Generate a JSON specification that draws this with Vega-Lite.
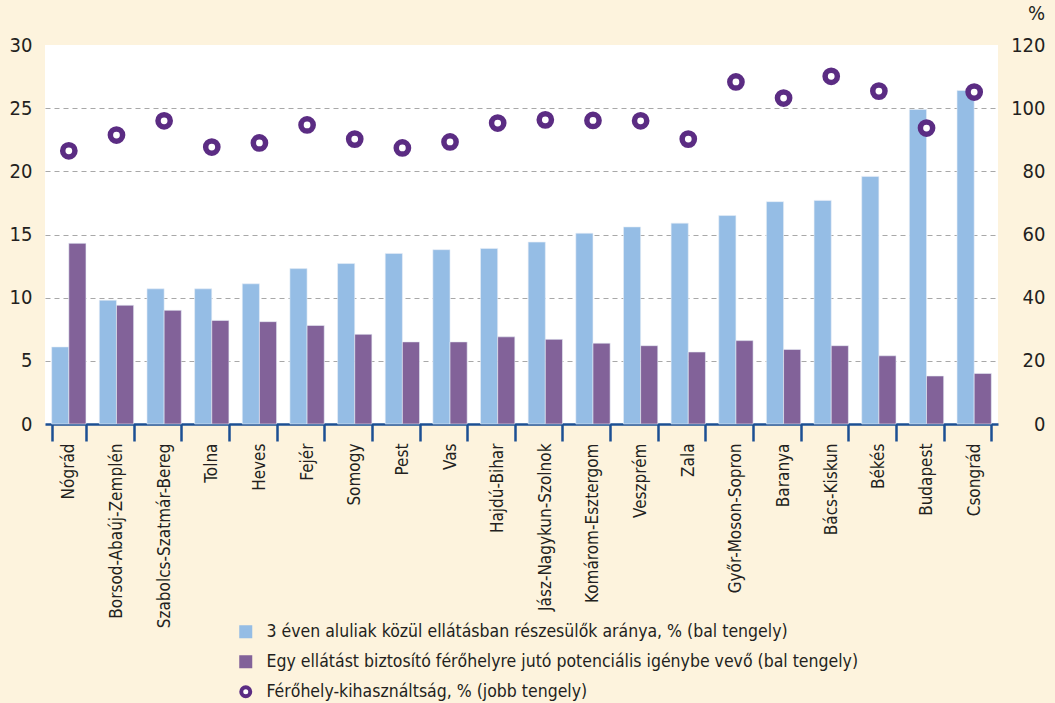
{
  "$schema": "https://vega.github.io/schema/vega-lite/v6.json",
  "width": 953,
  "height": 379,
  "autosize": {"type": "none"},
  "padding": {"left": 45, "top": 45, "right": 57, "bottom": 279},
  "background": "#FDF3DD",
  "config": {
    "view": {"fill": "white", "stroke": null},
    "font": "Liberation Sans Narrow, DejaVu Sans Condensed, sans-serif",
    "legend": {"symbolStrokeWidth": 4, "symbolSize": 81}
  },
  "title": {
    "text": "2015",
    "anchor": "start",
    "frame": "group",
    "dx": 65,
    "offset": 36,
    "baseline": "bottom",
    "fontSize": 30,
    "fontWeight": "bold",
    "color": "#C8323C",
    "font": "Liberation Sans Narrow, DejaVu Sans Condensed, sans-serif"
  },
  "datasets": {
    "bars": [
      {"county": "Nógrád", "series": "3 éven aluliak közül ellátásban részesülők aránya, % (bal tengely)", "value": 6.1},
      {"county": "Nógrád", "series": "Egy ellátást biztosító férőhelyre jutó potenciális igénybe vevő (bal tengely)", "value": 14.3},
      {"county": "Borsod-Abaúj-Zemplén", "series": "3 éven aluliak közül ellátásban részesülők aránya, % (bal tengely)", "value": 9.8},
      {"county": "Borsod-Abaúj-Zemplén", "series": "Egy ellátást biztosító férőhelyre jutó potenciális igénybe vevő (bal tengely)", "value": 9.4},
      {"county": "Szabolcs-Szatmár-Bereg", "series": "3 éven aluliak közül ellátásban részesülők aránya, % (bal tengely)", "value": 10.7},
      {"county": "Szabolcs-Szatmár-Bereg", "series": "Egy ellátást biztosító férőhelyre jutó potenciális igénybe vevő (bal tengely)", "value": 9.0},
      {"county": "Tolna", "series": "3 éven aluliak közül ellátásban részesülők aránya, % (bal tengely)", "value": 10.7},
      {"county": "Tolna", "series": "Egy ellátást biztosító férőhelyre jutó potenciális igénybe vevő (bal tengely)", "value": 8.2},
      {"county": "Heves", "series": "3 éven aluliak közül ellátásban részesülők aránya, % (bal tengely)", "value": 11.1},
      {"county": "Heves", "series": "Egy ellátást biztosító férőhelyre jutó potenciális igénybe vevő (bal tengely)", "value": 8.1},
      {"county": "Fejér", "series": "3 éven aluliak közül ellátásban részesülők aránya, % (bal tengely)", "value": 12.3},
      {"county": "Fejér", "series": "Egy ellátást biztosító férőhelyre jutó potenciális igénybe vevő (bal tengely)", "value": 7.8},
      {"county": "Somogy", "series": "3 éven aluliak közül ellátásban részesülők aránya, % (bal tengely)", "value": 12.7},
      {"county": "Somogy", "series": "Egy ellátást biztosító férőhelyre jutó potenciális igénybe vevő (bal tengely)", "value": 7.1},
      {"county": "Pest", "series": "3 éven aluliak közül ellátásban részesülők aránya, % (bal tengely)", "value": 13.5},
      {"county": "Pest", "series": "Egy ellátást biztosító férőhelyre jutó potenciális igénybe vevő (bal tengely)", "value": 6.5},
      {"county": "Vas", "series": "3 éven aluliak közül ellátásban részesülők aránya, % (bal tengely)", "value": 13.8},
      {"county": "Vas", "series": "Egy ellátást biztosító férőhelyre jutó potenciális igénybe vevő (bal tengely)", "value": 6.5},
      {"county": "Hajdú-Bihar", "series": "3 éven aluliak közül ellátásban részesülők aránya, % (bal tengely)", "value": 13.9},
      {"county": "Hajdú-Bihar", "series": "Egy ellátást biztosító férőhelyre jutó potenciális igénybe vevő (bal tengely)", "value": 6.9},
      {"county": "Jász-Nagykun-Szolnok", "series": "3 éven aluliak közül ellátásban részesülők aránya, % (bal tengely)", "value": 14.4},
      {"county": "Jász-Nagykun-Szolnok", "series": "Egy ellátást biztosító férőhelyre jutó potenciális igénybe vevő (bal tengely)", "value": 6.7},
      {"county": "Komárom-Esztergom", "series": "3 éven aluliak közül ellátásban részesülők aránya, % (bal tengely)", "value": 15.1},
      {"county": "Komárom-Esztergom", "series": "Egy ellátást biztosító férőhelyre jutó potenciális igénybe vevő (bal tengely)", "value": 6.4},
      {"county": "Veszprém", "series": "3 éven aluliak közül ellátásban részesülők aránya, % (bal tengely)", "value": 15.6},
      {"county": "Veszprém", "series": "Egy ellátást biztosító férőhelyre jutó potenciális igénybe vevő (bal tengely)", "value": 6.2},
      {"county": "Zala", "series": "3 éven aluliak közül ellátásban részesülők aránya, % (bal tengely)", "value": 15.9},
      {"county": "Zala", "series": "Egy ellátást biztosító férőhelyre jutó potenciális igénybe vevő (bal tengely)", "value": 5.7},
      {"county": "Győr-Moson-Sopron", "series": "3 éven aluliak közül ellátásban részesülők aránya, % (bal tengely)", "value": 16.5},
      {"county": "Győr-Moson-Sopron", "series": "Egy ellátást biztosító férőhelyre jutó potenciális igénybe vevő (bal tengely)", "value": 6.6},
      {"county": "Baranya", "series": "3 éven aluliak közül ellátásban részesülők aránya, % (bal tengely)", "value": 17.6},
      {"county": "Baranya", "series": "Egy ellátást biztosító férőhelyre jutó potenciális igénybe vevő (bal tengely)", "value": 5.9},
      {"county": "Bács-Kiskun", "series": "3 éven aluliak közül ellátásban részesülők aránya, % (bal tengely)", "value": 17.7},
      {"county": "Bács-Kiskun", "series": "Egy ellátást biztosító férőhelyre jutó potenciális igénybe vevő (bal tengely)", "value": 6.2},
      {"county": "Békés", "series": "3 éven aluliak közül ellátásban részesülők aránya, % (bal tengely)", "value": 19.6},
      {"county": "Békés", "series": "Egy ellátást biztosító férőhelyre jutó potenciális igénybe vevő (bal tengely)", "value": 5.4},
      {"county": "Budapest", "series": "3 éven aluliak közül ellátásban részesülők aránya, % (bal tengely)", "value": 24.9},
      {"county": "Budapest", "series": "Egy ellátást biztosító férőhelyre jutó potenciális igénybe vevő (bal tengely)", "value": 3.8},
      {"county": "Csongrád", "series": "3 éven aluliak közül ellátásban részesülők aránya, % (bal tengely)", "value": 26.4},
      {"county": "Csongrád", "series": "Egy ellátást biztosító férőhelyre jutó potenciális igénybe vevő (bal tengely)", "value": 4.0}
    ],
    "points": [
      {"county": "Nógrád", "series": "Férőhely-kihasználtság, % (jobb tengely)", "value": 86.5},
      {"county": "Borsod-Abaúj-Zemplén", "series": "Férőhely-kihasználtság, % (jobb tengely)", "value": 91.5},
      {"county": "Szabolcs-Szatmár-Bereg", "series": "Férőhely-kihasználtság, % (jobb tengely)", "value": 96.0},
      {"county": "Tolna", "series": "Férőhely-kihasználtság, % (jobb tengely)", "value": 87.7},
      {"county": "Heves", "series": "Férőhely-kihasználtság, % (jobb tengely)", "value": 89.0},
      {"county": "Fejér", "series": "Férőhely-kihasználtság, % (jobb tengely)", "value": 94.7},
      {"county": "Somogy", "series": "Férőhely-kihasználtság, % (jobb tengely)", "value": 90.2},
      {"county": "Pest", "series": "Férőhely-kihasználtság, % (jobb tengely)", "value": 87.4},
      {"county": "Vas", "series": "Férőhely-kihasználtság, % (jobb tengely)", "value": 89.3},
      {"county": "Hajdú-Bihar", "series": "Férőhely-kihasználtság, % (jobb tengely)", "value": 95.3},
      {"county": "Jász-Nagykun-Szolnok", "series": "Férőhely-kihasználtság, % (jobb tengely)", "value": 96.3},
      {"county": "Komárom-Esztergom", "series": "Férőhely-kihasználtság, % (jobb tengely)", "value": 96.1},
      {"county": "Veszprém", "series": "Férőhely-kihasználtság, % (jobb tengely)", "value": 96.0},
      {"county": "Zala", "series": "Férőhely-kihasználtság, % (jobb tengely)", "value": 90.2},
      {"county": "Győr-Moson-Sopron", "series": "Férőhely-kihasználtság, % (jobb tengely)", "value": 108.3},
      {"county": "Baranya", "series": "Férőhely-kihasználtság, % (jobb tengely)", "value": 103.2},
      {"county": "Bács-Kiskun", "series": "Férőhely-kihasználtság, % (jobb tengely)", "value": 110.1},
      {"county": "Békés", "series": "Férőhely-kihasználtság, % (jobb tengely)", "value": 105.4},
      {"county": "Budapest", "series": "Férőhely-kihasználtság, % (jobb tengely)", "value": 93.7},
      {"county": "Csongrád", "series": "Férőhely-kihasználtság, % (jobb tengely)", "value": 105.1}
    ]
  },
  "layer": [
    {
      "data": {"name": "bars"},
      "mark": {"type": "bar", "stroke": "#E8EEF6", "strokeWidth": 0.6},
      "encoding": {
        "x": {
          "field": "county",
          "type": "nominal",
          "sort": null,
          "scale": {"paddingInner": 0.28, "paddingOuter": 0.14},
          "axis": {
            "title": null,
            "labelAngle": 270,
            "labelAlign": "right",
            "labelBaseline": "middle",
            "labelFontSize": 17,
            "labelColor": "#231F20",
            "labelPadding": 2,
            "labelLimit": 300,
            "tickBand": "extent",
            "tickSize": 17,
            "tickWidth": 2.5,
            "tickColor": "#1B4F93",
            "domainColor": "#1B4F93",
            "domainWidth": 2.5,
            "grid": false
          }
        },
        "xOffset": {"field": "series", "type": "nominal", "sort": null, "scale": {"paddingInner": 0, "paddingOuter": 0}},
        "y": {
          "field": "value",
          "type": "quantitative",
          "scale": {"domain": [0, 30]},
          "axis": {
            "title": null,
            "values": [0, 5, 10, 15, 20, 25, 30],
            "domain": false,
            "ticks": false,
            "labelPadding": 13,
            "labelFontSize": 20,
            "labelColor": "#231F20",
            "grid": true,
            "gridDash": [5, 4],
            "gridColor": "#A8A8A8",
            "gridWidth": 1.2,
            "gridOpacity": {"condition": {"test": "datum.value == 0 || datum.value == 30", "value": 0}, "value": 1}
          }
        },
        "fill": {
          "field": "series",
          "type": "nominal",
          "scale": {
            "domain": [
              "3 éven aluliak közül ellátásban részesülők aránya, % (bal tengely)",
              "Egy ellátást biztosító férőhelyre jutó potenciális igénybe vevő (bal tengely)",
              "Férőhely-kihasználtság, % (jobb tengely)"
            ],
            "range": ["#95BDE5", "#826299", "#FFFFFF"]
          },
          "legend": {
            "title": null,
            "orient": "none",
            "legendX": 192,
            "legendY": 578,
            "direction": "vertical",
            "labelFontSize": 17.5,
            "labelColor": "#231F20",
            "labelOffset": 12,
            "labelLimit": 700,
            "rowPadding": 4
          }
        }
      }
    },
    {
      "data": {"name": "points"},
      "mark": {"type": "point", "strokeWidth": 5.5, "size": 150, "opacity": 1},
      "encoding": {
        "x": {"field": "county", "type": "nominal", "sort": null},
        "y": {
          "field": "value",
          "type": "quantitative",
          "scale": {"domain": [0, 120]},
          "axis": {
            "orient": "right",
            "title": "%",
            "titleAngle": 0,
            "titleAlign": "center",
            "titleBaseline": "bottom",
            "titleX": 38,
            "titleY": -22,
            "titleFontSize": 20,
            "titleFontWeight": "normal",
            "titleColor": "#231F20",
            "values": [0, 20, 40, 60, 80, 100, 120],
            "domain": false,
            "ticks": false,
            "grid": false,
            "labelAlign": "right",
            "labelPadding": 47,
            "labelFontSize": 20,
            "labelColor": "#231F20"
          }
        },
        "fill": {"field": "series", "type": "nominal"},
        "stroke": {
          "field": "series",
          "type": "nominal",
          "scale": {
            "domain": [
              "3 éven aluliak közül ellátásban részesülők aránya, % (bal tengely)",
              "Egy ellátást biztosító férőhelyre jutó potenciális igénybe vevő (bal tengely)",
              "Férőhely-kihasználtság, % (jobb tengely)"
            ],
            "range": ["#95BDE5", "#826299", "#5B2C83"]
          },
          "legend": {
            "title": null,
            "orient": "none",
            "legendX": 192,
            "legendY": 578,
            "direction": "vertical",
            "labelFontSize": 17.5,
            "labelColor": "#231F20",
            "labelOffset": 12,
            "labelLimit": 700,
            "rowPadding": 4
          }
        },
        "shape": {
          "field": "series",
          "type": "nominal",
          "scale": {
            "domain": [
              "3 éven aluliak közül ellátásban részesülők aránya, % (bal tengely)",
              "Egy ellátást biztosító férőhelyre jutó potenciális igénybe vevő (bal tengely)",
              "Férőhely-kihasználtság, % (jobb tengely)"
            ],
            "range": ["square", "square", "circle"]
          },
          "legend": {
            "title": null,
            "orient": "none",
            "legendX": 192,
            "legendY": 578,
            "direction": "vertical",
            "labelFontSize": 17.5,
            "labelColor": "#231F20",
            "labelOffset": 12,
            "labelLimit": 700,
            "rowPadding": 4
          }
        }
      }
    }
  ],
  "resolve": {"scale": {"y": "independent"}}
}
